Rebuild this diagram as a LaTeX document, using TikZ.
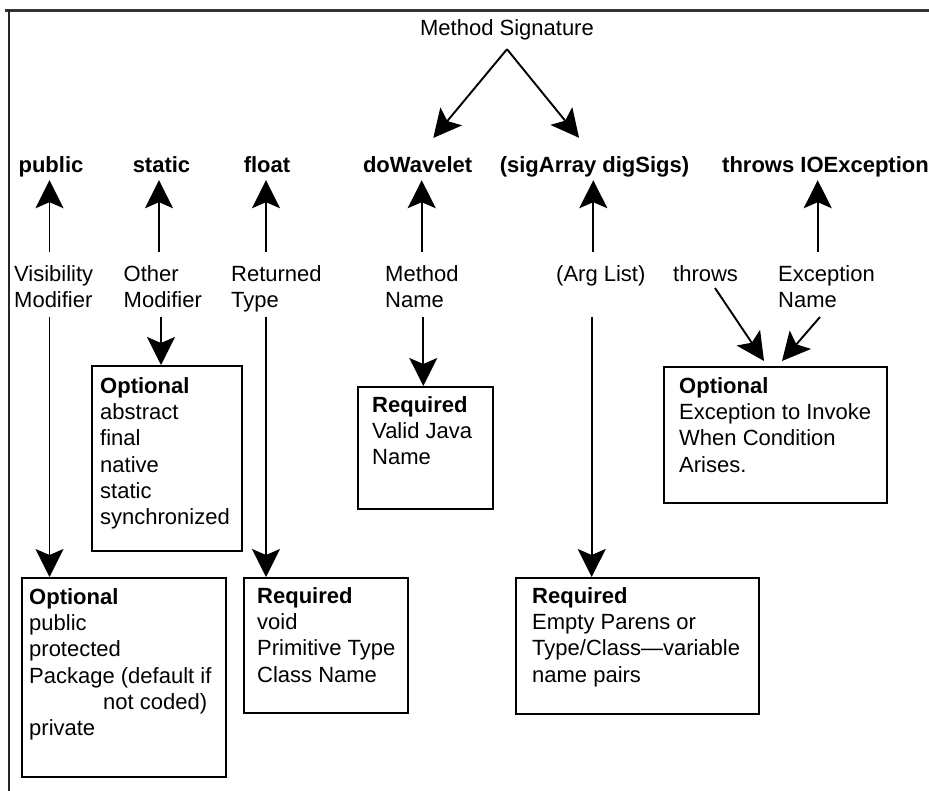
\documentclass[tikz,border=0pt]{standalone}
\usepackage{fontspec}
\setmainfont{Liberation Sans}
\usetikzlibrary{arrows.meta,calc}
\begin{document}
\begin{tikzpicture}[x=1pt,y=-1pt,
  every node/.style={font=\fontsize{22}{26.3}\selectfont, inner sep=0pt},
  arr/.style={line width=1.9pt, -{Stealth[length=28pt,width=28pt,inset=6pt]}},
  toplab/.style={font=\fontsize{22}{26.3}\selectfont\bfseries, text height=16pt, text depth=7pt, anchor=base},
  mssty/.style={text height=16pt, text depth=5pt, inner ysep=8pt, anchor=base},
  lab/.style={align=left, anchor=north west},
  boxsty/.style={draw, line width=1.9pt, anchor=north west},
  bt/.style={align=left, anchor=north west}]
\useasboundingbox (0,0) rectangle (929,791);
% frame
\draw[line width=2.8pt, black!80] (5,10.5) -- (929,10.5);
\draw[line width=2pt, black!85] (8.5,10) -- (8.5,791);

% top row
\node[mssty] (ms) at (507,36) {Method Signature};
\node[toplab] (pub) at (51,173) {public};
\node[toplab] (stat) at (161.5,173) {static};
\node[toplab] (flt) at (267,173) {float};
\node[toplab] (dow) at (417.6,173) {doWavelet};
\node[toplab] (sig) at (594.5,173) {(sigArray digSigs)};
\node[toplab, anchor=base west] (thr) at (722,173) {throws IOException};

\draw[arr, shorten >=24.5pt] (ms.south) -- (dow.north);
\draw[arr, shorten >=24.5pt] (ms.south) -- (sig.north);

% labels
\node[lab] (vis) at (14,265.5) {Visibility\\Modifier};
\node[lab] (oth) at (123.5,265.5) {Other\\Modifier};
\node[lab] (ret) at (231,265.5) {Returned\\Type};
\node[lab] (mnl) at (385,265.5) {Method\\Name};
\node[lab] (arg) at (556,265.5) {(Arg List)};
\node[lab] (th2) at (673,265.5) {throws};
\node[lab] (exn) at (778,265.5) {Exception\\Name};

% boxes
\node[boxsty, minimum width=150pt, minimum height=185pt] (om) at (91,365) {};
\node[boxsty, minimum width=135pt, minimum height=122pt] (mn) at (357,386) {};
\node[boxsty, minimum width=204pt, minimum height=199pt] (vb) at (21,577) {};
\node[boxsty, minimum width=164pt, minimum height=135pt] (rb) at (243,577) {};
\node[boxsty, minimum width=243pt, minimum height=136pt] (ab) at (515,577) {};
\node[boxsty, minimum width=223pt, minimum height=136pt] (eb) at (663,366) {};

\node[bt] at ($(om.north west)+(9,12)$) {\textbf{Optional}\\abstract\\final\\native\\static\\synchronized};
\node[bt] at ($(mn.north west)+(15,10)$) {\textbf{Required}\\Valid Java\\Name};
\node[bt] at ($(vb.north west)+(8,11)$) {\textbf{Optional}\\public\\protected\\Package (default if\\\hspace*{74pt}not coded)\\private};
\node[bt] at ($(rb.north west)+(14,10)$) {\textbf{Required}\\void\\Primitive Type\\Class Name};
\node[bt] at ($(ab.north west)+(17,10)$) {\textbf{Required}\\Empty Parens or\\Type/Class\textemdash variable\\name pairs};
\node[bt] at ($(eb.north west)+(16,11)$) {\textbf{Optional}\\Exception to Invoke\\When Condition\\Arises.};

% up arrows
\draw[arr] ($(vis.north west)+(35.5,-13.5)$) coordinate (u1) -- (u1 |- pub.south);
\draw[arr] ($(oth.north west)+(35.5,-13.5)$) coordinate (u2) -- (u2 |- stat.south);
\draw[arr] ($(ret.north west)+(35,-13.5)$) coordinate (u3) -- (u3 |- flt.south);
\draw[arr] ($(mnl.north west)+(36.7,-13.5)$) coordinate (u4) -- (u4 |- dow.south);
\draw[arr] ($(arg.north west)+(37.3,-13.5)$) coordinate (u5) -- (u5 |- sig.south);
\draw[arr] ($(exn.north west)+(39.7,-13.5)$) coordinate (u6) -- (u6 |- thr.south);

% down arrows
\draw[arr] ($(vis.north west)+(35.5,51.5)$) coordinate (d1) -- (d1 |- vb.north);
\draw[arr] ($(oth.north west)+(37.5,51.5)$) coordinate (d2) -- (d2 |- om.north);
\draw[arr] ($(ret.north west)+(35,51.5)$) coordinate (d3) -- (d3 |- rb.north);
\draw[arr] ($(mnl.north west)+(38.3,51.5)$) coordinate (d4) -- (d4 |- mn.north);
\draw[arr] ($(arg.north west)+(35.7,51.5)$) coordinate (d5) -- (d5 |- ab.north);

% exception arrows
\draw[arr] ($(th2.north west)+(42,22.5)$) -- ($(eb.north west)+(101,-5)$);
\draw[arr] ($(exn.north west)+(42,51.5)$) -- ($(eb.north west)+(119,-5)$);
\end{tikzpicture}
\end{document}
